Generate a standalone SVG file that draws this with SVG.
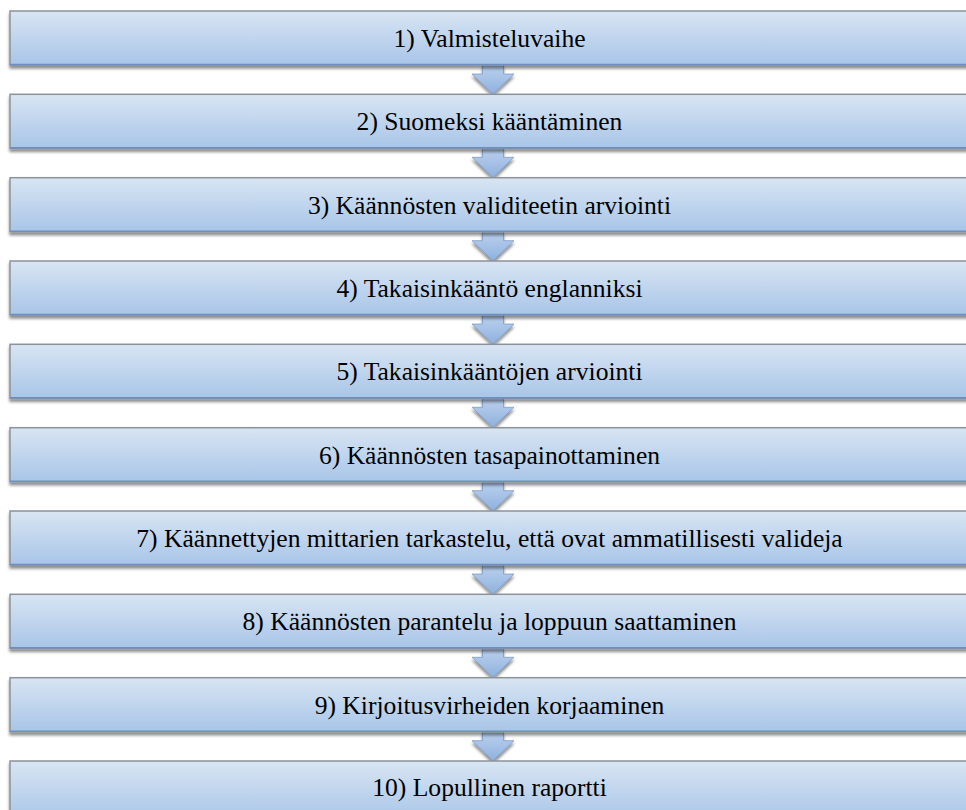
<svg xmlns="http://www.w3.org/2000/svg" width="966" height="810" viewBox="0 0 966 810">
<defs>
<linearGradient id="boxg" x1="0" y1="0" x2="0" y2="1">
<stop offset="0" stop-color="#d8e5f3"/>
<stop offset="1" stop-color="#a8c5e8"/>
</linearGradient>
<linearGradient id="arrg" x1="0" y1="0" x2="0" y2="1">
<stop offset="0" stop-color="#bcd2ee"/>
<stop offset="1" stop-color="#8fb1de"/>
</linearGradient>
<filter id="sh" x="-5%" y="-20%" width="110%" height="160%">
<feGaussianBlur in="SourceAlpha" stdDeviation="1.5"/>
<feOffset dx="0" dy="3" result="b"/>
<feComponentTransfer><feFuncA type="linear" slope="0.45"/></feComponentTransfer>
<feMerge><feMergeNode/><feMergeNode in="SourceGraphic"/></feMerge>
</filter>
<path id="arrow" d="M-10.5,0 H10.5 V9.5 H21 L0,29.5 L-21,9.5 H-10.5 Z"/>
</defs>
<style>
.box{fill:url(#boxg);stroke:#8c929c;stroke-width:1.5;filter:url(#sh)}
.bl{stroke:#6c8fc2;stroke-width:1.5}
.t{font-family:'Liberation Serif','Times New Roman',serif;font-size:25.6px;fill:#000;text-anchor:middle}
.ar{fill:url(#arrg);stroke:#7c9cc8;stroke-width:0.8;filter:url(#sh)}
</style>
<g id="connectors">
<use href="#arrow" class="ar" x="493" y="64.5"/>
<use href="#arrow" class="ar" x="493" y="147.8"/>
<use href="#arrow" class="ar" x="493" y="231.2"/>
<use href="#arrow" class="ar" x="493" y="314.5"/>
<use href="#arrow" class="ar" x="493" y="397.8"/>
<use href="#arrow" class="ar" x="493" y="481.2"/>
<use href="#arrow" class="ar" x="493" y="564.5"/>
<use href="#arrow" class="ar" x="493" y="647.8"/>
<use href="#arrow" class="ar" x="493" y="731.2"/>
</g>
<g id="n1"><rect class="box" x="10" y="11" width="970" height="54"/><line class="bl" x1="10" y1="64.5" x2="966" y2="64.5"/><text class="t" x="489.5" y="47">1) Valmisteluvaihe</text></g>
<g id="n2"><rect class="box" x="10" y="94.3" width="970" height="54"/><line class="bl" x1="10" y1="147.8" x2="966" y2="147.8"/><text class="t" x="489.5" y="130.3">2) Suomeksi kääntäminen</text></g>
<g id="n3"><rect class="box" x="10" y="177.7" width="970" height="54"/><line class="bl" x1="10" y1="231.2" x2="966" y2="231.2"/><text class="t" x="489.5" y="213.7">3) Käännösten validiteetin arviointi</text></g>
<g id="n4"><rect class="box" x="10" y="261" width="970" height="54"/><line class="bl" x1="10" y1="314.5" x2="966" y2="314.5"/><text class="t" x="489.5" y="297">4) Takaisinkääntö englanniksi</text></g>
<g id="n5"><rect class="box" x="10" y="344.3" width="970" height="54"/><line class="bl" x1="10" y1="397.8" x2="966" y2="397.8"/><text class="t" x="489.5" y="380.3">5) Takaisinkääntöjen arviointi</text></g>
<g id="n6"><rect class="box" x="10" y="427.7" width="970" height="54"/><line class="bl" x1="10" y1="481.2" x2="966" y2="481.2"/><text class="t" x="489.5" y="463.7">6) Käännösten tasapainottaminen</text></g>
<g id="n7"><rect class="box" x="10" y="511" width="970" height="54"/><line class="bl" x1="10" y1="564.5" x2="966" y2="564.5"/><text class="t" x="489.5" y="547">7) Käännettyjen mittarien tarkastelu, että ovat ammatillisesti valideja</text></g>
<g id="n8"><rect class="box" x="10" y="594.3" width="970" height="54"/><line class="bl" x1="10" y1="647.8" x2="966" y2="647.8"/><text class="t" x="489.5" y="630.3">8) Käännösten parantelu ja loppuun saattaminen</text></g>
<g id="n9"><rect class="box" x="10" y="677.7" width="970" height="54"/><line class="bl" x1="10" y1="731.2" x2="966" y2="731.2"/><text class="t" x="489.5" y="713.7">9) Kirjoitusvirheiden korjaaminen</text></g>
<g id="n10"><rect class="box" x="10" y="761" width="970" height="60"/><text class="t" x="489.5" y="796">10) Lopullinen raportti</text></g>
</svg>
